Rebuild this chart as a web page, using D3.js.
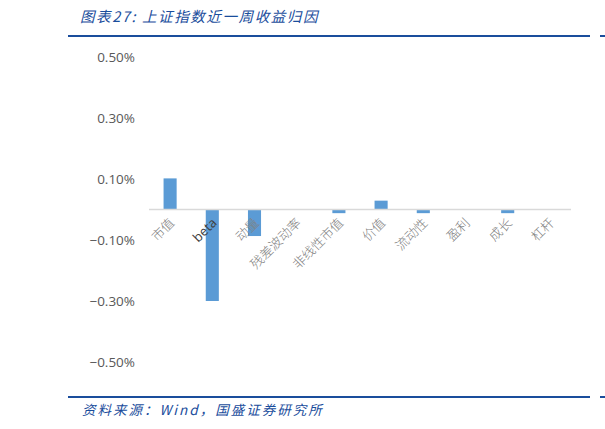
<!DOCTYPE html>
<html><head><meta charset="utf-8">
<script src="https://cdn.jsdelivr.net/npm/d3@7"></script>
<style>body{margin:0;background:#fff;}svg{display:block;}</style>
</head><body>
<svg id="c" width="605" height="429"></svg>
<script>
const categories = ["市值","beta","动量","残差波动率","非线性市值","价值","流动性","盈利","成长","杠杆"];
const values = [0.102, -0.300, -0.087, 0, -0.012, 0.029, -0.012, 0, -0.012, 0];
const yTicks = [0.5, 0.3, 0.1, -0.1, -0.3, -0.5];
const titleText = "图表27:  上证指数近一周收益归因";
const sourceText = "资料来源：Wind，国盛证券研究所";

const svg = d3.select("#c");
const blue = "#1a4d9c";
const x = d3.scaleBand().domain(categories).range([149, 571]).paddingInner(0.69).paddingOuter(0.345);
const y = d3.scaleLinear().domain([-0.5, 0.5]).range([362, 57]);

// header
svg.append("text").attr("x", 80).attr("y", 22).attr("fill", blue)
  .attr("font-family", "Noto Sans CJK SC").attr("font-style", "italic").attr("font-size", 14.5)
  .attr("letter-spacing", 1.6)
  .text(titleText);
svg.append("rect").attr("x", 68).attr("y", 35).attr("width", 522).attr("height", 2).attr("fill", blue);
svg.append("rect").attr("x", 600).attr("y", 35).attr("width", 5).attr("height", 2).attr("fill", blue);

// y tick labels
svg.append("g").selectAll("text").data(yTicks).join("text")
  .attr("x", 135).attr("y", d => y(d)).attr("dy", "0.35em").attr("text-anchor", "end")
  .attr("fill", "#595959").attr("font-family", "Open Sans, Noto Sans").attr("font-size", 13.5)
  .text(d => d3.format(".2f")(d) + "%");

// bars
svg.append("g").selectAll("rect").data(values).join("rect")
  .attr("x", (d, i) => x(categories[i]))
  .attr("width", x.bandwidth())
  .attr("y", d => Math.min(y(d), y(0)))
  .attr("height", d => Math.abs(y(d) - y(0)))
  .attr("fill", "#5b9bd5");

// zero axis
svg.append("line").attr("x1", 149).attr("x2", 571).attr("y1", y(0)).attr("y2", y(0))
  .attr("stroke", "#d9d9d9").attr("stroke-width", 1.5);

// category labels
svg.append("g").selectAll("text").data(categories).join("text")
  .attr("transform", d => `translate(${x(d) + x.bandwidth() / 2 + 2},${y(0) + 11}) rotate(-45)`)
  .attr("text-anchor", "end").attr("dy", "0.35em")
  .attr("fill", d => d === "beta" ? "#404040" : "#808080")
  .attr("font-family", d => d === "beta" ? "Open Sans, Noto Sans" : "Noto Sans CJK SC")
  .attr("font-weight", d => d === "beta" ? 400 : 300)
  .attr("font-size", 13)
  .text(d => d);

// footer
svg.append("rect").attr("x", 68).attr("y", 396).attr("width", 522).attr("height", 2).attr("fill", blue);
svg.append("rect").attr("x", 600).attr("y", 396).attr("width", 5).attr("height", 2).attr("fill", blue);
svg.append("text").attr("x", 82).attr("y", 415).attr("fill", blue)
  .attr("font-family", "Noto Sans CJK SC").attr("font-style", "italic").attr("font-size", 13.5)
  .attr("letter-spacing", 2)
  .text(sourceText);
</script>
</body></html>
